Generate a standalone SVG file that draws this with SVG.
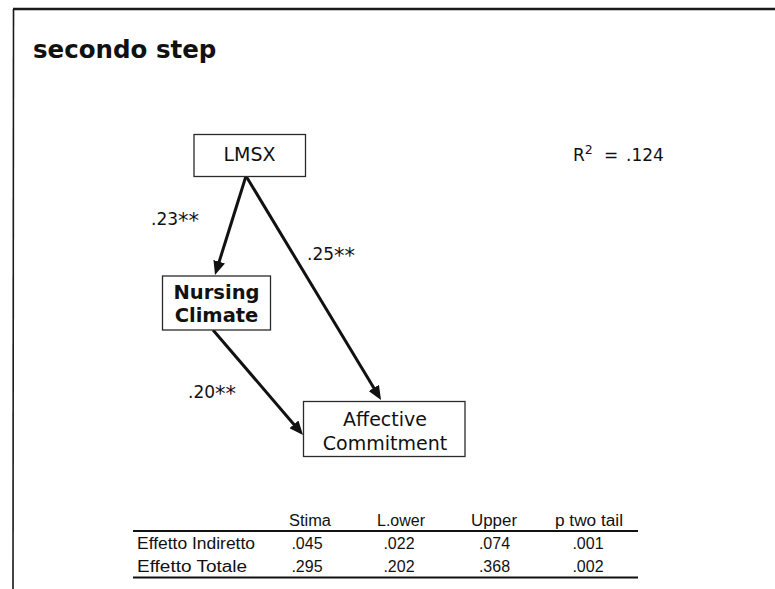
<svg xmlns="http://www.w3.org/2000/svg" width="775" height="589" viewBox="0 0 775 589">
  <style>
    .frame { stroke: #1a1a1a; fill: none; }
    .box { fill: #ffffff; stroke: #2a2a2a; stroke-width: 1.3; }
    .edge { stroke: #111; stroke-width: 3; fill: none; marker-end: url(#head); }
    .title { font-family: "DejaVu Sans", Verdana, sans-serif; font-weight: bold; font-size: 24.5px; fill: #111; }
    .node { font-family: "DejaVu Sans", Verdana, sans-serif; font-size: 19px; fill: #111; text-anchor: middle; }
    .node-b { font-family: "DejaVu Sans", Verdana, sans-serif; font-weight: bold; font-size: 19.5px; fill: #111; text-anchor: middle; }
    .coef { font-family: "DejaVu Sans", Verdana, sans-serif; font-size: 17px; fill: #111; }
    .star { font-size: 21px; }
    .tab { font-family: "Liberation Sans", Arial, sans-serif; font-size: 16px; fill: #111; }
    .c { text-anchor: middle; }
    .rule { stroke: #111; stroke-width: 2; }
  </style>
  <defs>
    <marker id="head" viewBox="0 0 14 12" markerWidth="14" markerHeight="12" markerUnits="userSpaceOnUse" refX="6" refY="6" orient="auto">
      <path d="M0,0 L14,6 L0,12 z" fill="#111"/>
    </marker>
  </defs>

  <rect width="775" height="589" fill="#ffffff"/>

  <!-- slide frame: top and left edges -->
  <line class="frame" x1="13" y1="9" x2="775" y2="9" stroke-width="2.5"/>
  <line class="frame" x1="13.5" y1="9" x2="13" y2="589" stroke-width="1.6"/>

  <text class="title" x="33" y="58">secondo step</text>

  <!-- connectors -->
  <g id="connectors">
    <line class="edge" x1="246" y1="176" x2="217.4" y2="267.4"/>
    <line class="edge" x1="246" y1="176" x2="376.9" y2="393.1"/>
    <line class="edge" x1="213" y1="330" x2="297.8" y2="428.9"/>
    <text class="coef" x="151" y="225">.23<tspan class="star" dy="3">**</tspan></text>
    <text class="coef" x="307" y="260">.25<tspan class="star" dy="3">**</tspan></text>
    <text class="coef" x="188" y="398">.20<tspan class="star" dy="3">**</tspan></text>
  </g>

  <g id="lmsx">
    <rect class="box" x="194" y="134.5" width="111.5" height="42"/>
    <text class="node" x="249.5" y="161">LMSX</text>
  </g>

  <g id="nursing-climate">
    <rect class="box" x="162.5" y="276" width="108" height="54"/>
    <text class="node-b" x="216.5" y="298.5">Nursing</text>
    <text class="node-b" x="216.5" y="322">Climate</text>
  </g>

  <g id="affective-commitment">
    <rect class="box" x="303.5" y="401.5" width="161.5" height="55"/>
    <text class="node" x="385" y="426">Affective</text>
    <text class="node" x="385" y="449.5">Commitment</text>
  </g>

  <g id="r-squared">
    <text class="coef" x="573" y="161">R<tspan font-size="12.5" dy="-7">2</tspan><tspan dy="7" x="604">=</tspan><tspan x="626">.124</tspan></text>
  </g>

  <!-- effects table -->
  <g id="effects-table">
    <text class="tab c" x="310" y="526" textLength="42" lengthAdjust="spacingAndGlyphs">Stima</text>
    <text class="tab c" x="401" y="526" textLength="48" lengthAdjust="spacingAndGlyphs">L.ower</text>
    <text class="tab c" x="494" y="526" textLength="46" lengthAdjust="spacingAndGlyphs">Upper</text>
    <text class="tab c" x="589" y="526" textLength="68" lengthAdjust="spacingAndGlyphs">p two tail</text>
    <line class="rule" x1="133" y1="531" x2="638" y2="531"/>

    <text class="tab" x="137" y="548.5" textLength="118" lengthAdjust="spacingAndGlyphs">Effetto Indiretto</text>
    <text class="tab c" x="307" y="548.5">.045</text>
    <text class="tab c" x="399" y="548.5">.022</text>
    <text class="tab c" x="494.5" y="548.5">.074</text>
    <text class="tab c" x="588" y="548.5">.001</text>

    <text class="tab" x="137" y="572" textLength="110" lengthAdjust="spacingAndGlyphs">Effetto Totale</text>
    <text class="tab c" x="307" y="572">.295</text>
    <text class="tab c" x="399" y="572">.202</text>
    <text class="tab c" x="494.5" y="572">.368</text>
    <text class="tab c" x="588" y="572">.002</text>
    <line class="rule" x1="133" y1="577.5" x2="638" y2="577.5"/>
  </g>
</svg>
